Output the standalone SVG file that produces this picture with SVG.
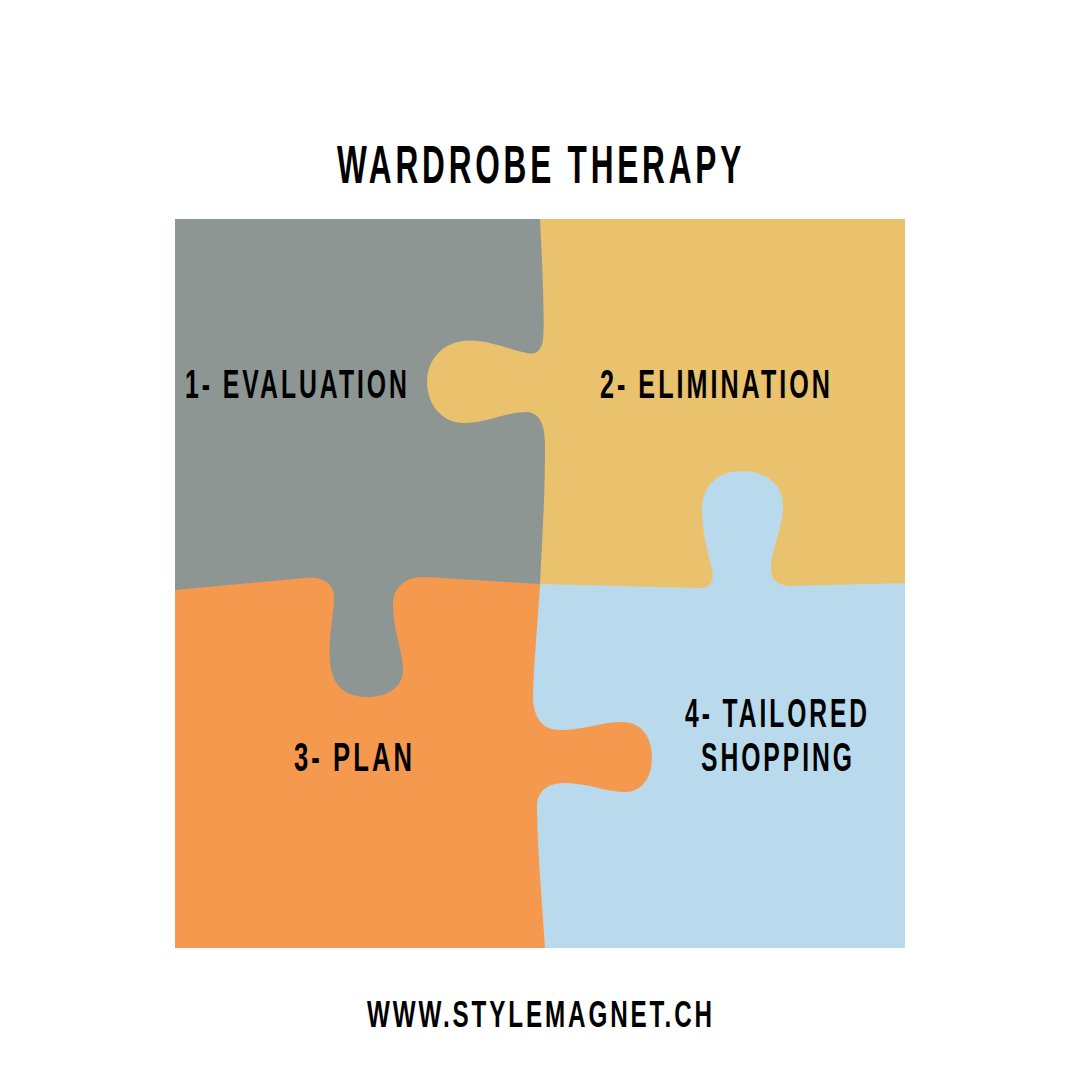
<svg xmlns="http://www.w3.org/2000/svg" width="1080" height="1080" viewBox="0 0 1080 1080">
<style>
.t{font-family:"Liberation Sans","Arial",sans-serif;font-weight:bold;fill:#000;letter-spacing:0.12em}
</style>
<rect x="0" y="0" width="1080" height="1080" fill="#fff"/>
<text class="t" x="337" y="183" font-size="53" textLength="408" lengthAdjust="spacingAndGlyphs">WARDROBE THERAPY</text>
<g id="piece-4">
<rect x="175" y="219" width="730" height="729" fill="#B8DAEC"/>
<text class="t" x="685" y="727" font-size="40" textLength="185" lengthAdjust="spacingAndGlyphs">4- TAILORED</text>
<text class="t" x="701" y="771" font-size="40" textLength="154" lengthAdjust="spacingAndGlyphs">SHOPPING</text>
</g>
<g id="piece-2">
<path fill="#EAC16D" d="M175,590 L305,578 C325,576 335,585 334,600 C333,620 328,640 330,660 C331,685 345,697 367,697 C390,697 404,685 403,668 C402,648 393,630 393,605 C393,588 405,576 425,577 L540,584 L700,588 C712,588 714,580 712,570 C709,555 702,535 702,510 C702,485 718,471 742,471 C766,471 783,485 783,505 C783,528 773,545 771,565 C770,578 775,585 790,586 L905,583 L905,219 L175,219 Z"/>
<text class="t" x="600" y="398" font-size="40" textLength="233" lengthAdjust="spacingAndGlyphs">2- ELIMINATION</text>
</g>
<g id="piece-1">
<path fill="#8D9692" d="M540,219 C542,260 545,320 543,340 C541,352 535,355 527,353 C510,350 485,338 463,341 C440,344 427,362 427,382 C427,402 440,422 462,423 C485,424 505,412 527,412 C540,413 545,425 545,445 C545,500 542,540 540,584 L530,600 L530,948 L175,948 L175,219 Z"/>
<text class="t" x="185" y="398" font-size="40" textLength="225" lengthAdjust="spacingAndGlyphs">1- EVALUATION</text>
</g>
<g id="piece-3">
<path fill="#F5994F" d="M175,590 L305,578 C325,576 335,585 334,600 C333,620 328,640 330,660 C331,685 345,697 367,697 C390,697 404,685 403,668 C402,648 393,630 393,605 C393,588 405,576 425,577 L540,584 C538,620 534,660 533,695 C533,715 540,730 560,730 C585,730 600,722 622,722 C642,722 652,738 652,757 C652,778 642,792 625,792 C605,792 588,783 565,783 C545,783 536,793 537,810 C538,860 542,900 545,948 L175,948 Z"/>
<text class="t" x="294" y="771" font-size="40" textLength="121" lengthAdjust="spacingAndGlyphs">3- PLAN</text>
</g>
<g id="connectors"></g>
<text class="t" x="367" y="1027" font-size="37" textLength="348" lengthAdjust="spacingAndGlyphs">WWW.STYLEMAGNET.CH</text>
</svg>
